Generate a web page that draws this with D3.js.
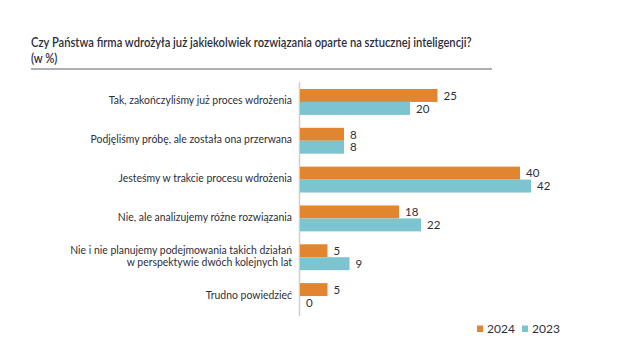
<!DOCTYPE html>
<html>
<head>
<meta charset="utf-8">
<script src="https://cdn.jsdelivr.net/npm/d3@7"></script>
<style>
  body { margin: 0; background: #fff; }
  text { font-family: Lato, "Open Sans", sans-serif; fill: #2e2e38; }
</style>
</head>
<body>
<div id="chart"></div>
<script>
const width = 624;
const height = 362;

const categories = [
    ['Tak, zakończyliśmy już proces wdrożenia'],
    ['Podjęliśmy próbę, ale została ona przerwana'],
    ['Jesteśmy w trakcie procesu wdrożenia'],
    ['Nie, ale analizujemy różne rozwiązania'],
    ['Nie i nie planujemy podejmowania takich działań', 'w perspektywie dwóch kolejnych lat'],
    ['Trudno powiedzieć']
];
const values2024 = [25, 8, 40, 18, 5, 5];
const values2023 = [20, 8, 42, 22, 9, 0];
const seriesNames = ['2024', '2023'];
const colors = ['#e1862f', '#7bc4d0'];

const svg = d3.select('#chart')
    .append('svg')
    .attr('width', width)
    .attr('height', height);

// the original uses a condensed face, so squeeze Lato horizontally
const title = svg.append('g')
    .attr('transform', 'translate(31, 0) scale(0.83, 1)');

title.append('text')
    .attr('y', 47)
    .style('font-size', '13.5px')
    .style('font-weight', 600)
    .text('Czy Państwa firma wdrożyła już jakiekolwiek rozwiązania oparte na sztucznej inteligencji?');

title.append('text')
    .attr('y', 63)
    .style('font-size', '13.5px')
    .style('font-weight', 600)
    .text('(w %)');

svg.append('line')
    .attr('x1', 31)
    .attr('x2', 492)
    .attr('y1', 69)
    .attr('y2', 69)
    .attr('stroke', '#5a6070')
    .attr('stroke-width', 1.2);

const x0 = 300;
const xScale = d3.scaleLinear()
    .domain([0, 40])
    .range([x0, x0 + 220]);

const yScale = d3.scaleBand()
    .domain(d3.range(categories.length))
    .range([82, 316])
    .paddingInner(0.333)
    .paddingOuter(0.18);

const sub = d3.scaleBand()
    .domain(seriesNames)
    .range([0, yScale.bandwidth()]);

// axis line
svg.append('line')
    .attr('x1', x0 - 0.5)
    .attr('x2', x0 - 0.5)
    .attr('y1', 82)
    .attr('y2', 316)
    .attr('stroke', '#cfcfcf')
    .attr('stroke-width', 1.5);

const groups = svg.selectAll('.group')
    .data(categories)
    .enter()
    .append('g')
    .attr('class', 'group')
    .attr('transform', (d, i) => `translate(0, ${yScale(i)})`);

// category labels
groups.append('g')
    .attr('transform', 'translate(292, 0) scale(0.87, 1)')
    .append('text')
    .attr('text-anchor', 'end')
    .attr('y', d => yScale.bandwidth() / 2 - (d.length - 1) * 6 + 2.5)
    .style('font-size', '12px')
    .selectAll('tspan')
    .data(d => d)
    .enter()
    .append('tspan')
    .attr('x', 0)
    .attr('dy', (d, i) => i === 0 ? 0 : 12.5)
    .text(d => d);

const allValues = [values2024, values2023];

seriesNames.forEach((name, s) => {
    groups.append('rect')
        .attr('x', x0)
        .attr('y', sub(name))
        .attr('width', (d, i) => xScale(allValues[s][i]) - x0)
        .attr('height', sub.bandwidth())
        .attr('fill', colors[s]);

    groups.append('text')
        .attr('x', (d, i) => xScale(allValues[s][i]) + 6)
        .attr('y', sub(name) + sub.bandwidth() / 2 + 4.2)
        .style('font-size', '11.5px')
        .text((d, i) => allValues[s][i]);
});

// legend
const legend = svg.append('g')
    .attr('transform', 'translate(477, 322)');

seriesNames.forEach((name, s) => {
    const g = legend.append('g')
        .attr('transform', `translate(${s * 45}, 0)`);
    g.append('rect')
        .attr('x', 0)
        .attr('y', 3.5)
        .attr('width', 6)
        .attr('height', 6.5)
        .attr('fill', colors[s]);
    g.append('text')
        .attr('x', 10)
        .attr('y', 11)
        .style('font-size', '12px')
        .text(name);
});
</script>
</body>
</html>
